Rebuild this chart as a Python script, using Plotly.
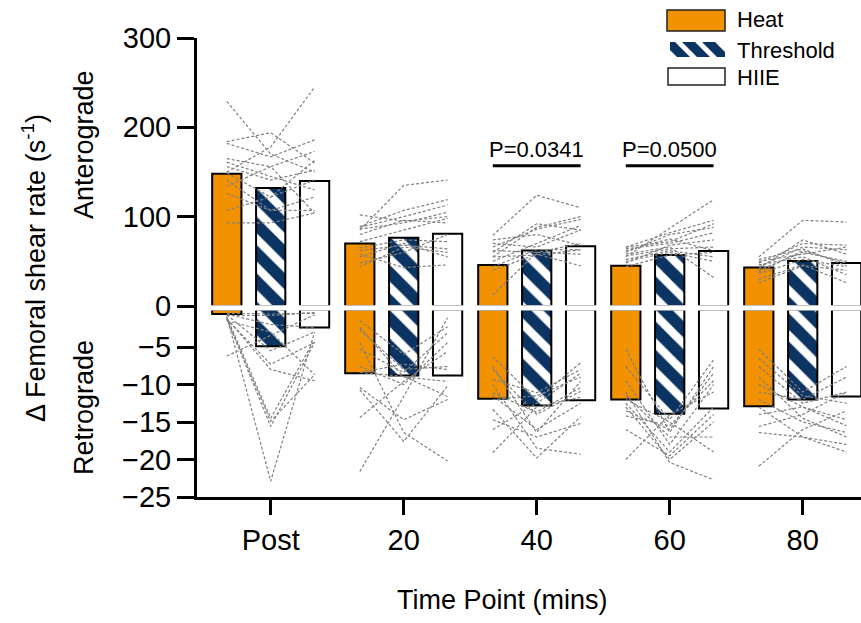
import plotly.graph_objects as go

# ---------------- data ----------------
TIME_LABELS = ["Post", "20", "40", "60", "80"]
SERIES = ["Heat", "Threshold", "HIIE"]

HEAT_ANTE = [148, 70, 46, 45, 43]
THR_ANTE = [132, 76.5, 62, 57, 50.4]
HIIE_ANTE = [140, 81, 67, 61.6, 48.2]
HEAT_RETRO = [-0.6, -8.5, -11.9, -12.0, -12.9]
THR_RETRO = [-4.9, -8.8, -12.8, -13.9, -12.0]
HIIE_RETRO = [-2.4, -8.8, -12.1, -13.2, -11.6]

Y_TOP_TICKS = [0, 100, 200, 300]
Y_BOT_TICKS = [-25, -20, -15, -10, -5]

# individual participant responses (Heat, Threshold, HIIE)
ANTE_POST = [(229, 170, 150), (150, 178, 245), (184, 194, 160), (182, 167, 186), (165, 156, 173),
             (161, 145, 130), (156, 141, 152), (149, 122, 141), (141, 107, 122), (134, 156, 104),
             (126, 107, 107), (107, 122, 163), (93, 93, 104)]
ANTE_20 = [(85, 135, 141), (102, 95, 100), (89, 107, 119), (88, 100, 113), (86, 93, 105),
           (80, 96, 93), (65, 74, 72), (62, 68, 64), (55, 70, 55), (44, 66, 60),
           (58, 43, 46), (72, 85, 98), (48, 60, 80)]
ANTE_40 = [(79, 124, 110), (66, 86, 97), (60, 92, 85), (55, 57, 63), (44, 63, 63),
           (12, 60, 70), (70, 66, 85), (50, 70, 90), (62, 60, 58), (40, 58, 45),
           (74, 80, 68), (55, 88, 100)]
ANTE_60 = [(55, 87, 119), (66, 82, 96), (60, 80, 88), (64, 70, 82), (44, 57, 60),
           (52, 62, 55), (58, 66, 32), (48, 68, 74), (62, 75, 62), (50, 60, 50),
           (66, 72, 92), (56, 64, 66)]
ANTE_80 = [(55, 96, 94), (48, 70, 68), (44, 66, 63), (40, 60, 50), (36, 52, 44),
           (30, 46, 26), (26, 45, 40), (50, 58, 66), (42, 74, 58), (46, 55, 35),
           (38, 62, 48), (52, 64, 45)]

RETRO_POST = [(-0.9, -22.9, -3.0), (-1.2, -15.6, -4.4), (-1.3, -14.9, -8.7), (-1.0, -14.5, -4.0),
              (-6.2, -3.5, -0.7), (-1.3, -7.3, -4.4), (-0.7, -5.5, -3.0), (-0.5, -0.6, -0.5),
              (-0.8, -0.8, -0.4), (-1.5, -3.0, -8.7), (-1.2, -8.0, -9.5), (-0.6, -2.0, -2.4)]
RETRO_20 = [(-4.4, -16.4, -20.2), (-21.6, -11.6, -1.1), (-10.4, -14.7, -12.0), (-2.7, -8.0, -7.6),
            (-8.4, -8.9, -11.6), (-14.4, -9.6, -5.6), (-5.3, -8.4, -3.1), (-8.4, -7.3, -8.0),
            (-2.4, -9.0, -9.6), (-7.6, -10.0, -4.4), (-10.7, -17.6, -10.2), (-1.5, -6.0, -2.3)]
RETRO_40 = [(-6.3, -12.0, -7.1), (-7.6, -16.4, -9.6), (-9.3, -11.1, -8.0), (-11.1, -13.7, -10.4),
            (-13.3, -19.8, -14.3), (-14.7, -17.0, -15.2), (-19.1, -13.0, -11.7), (-10.0, -18.5, -19.3),
            (-12.0, -11.5, -9.0), (-16.0, -12.5, -8.5), (-8.0, -14.0, -10.9), (-11.5, -16.0, -12.5)]
RETRO_60 = [(-5.3, -16.4, -7.6), (-7.6, -14.7, -6.7), (-11.0, -20.4, -22.7), (-12.5, -19.0, -13.0),
            (-14.2, -15.5, -9.5), (-20.0, -14.0, -11.0), (-13.0, -20.0, -15.0), (-11.5, -17.0, -17.0),
            (-12.0, -15.0, -19.0), (-9.5, -18.0, -10.0), (-16.0, -19.5, -14.0), (-13.5, -16.0, -8.5)]
RETRO_80 = [(-5.3, -11.0, -7.6), (-7.6, -12.5, -11.0), (-10.0, -13.0, -14.7), (-12.0, -15.0, -16.4),
            (-15.6, -14.0, -11.0), (-16.4, -17.0, -19.0), (-20.9, -16.0, -13.5), (-11.0, -12.0, -9.0),
            (-13.0, -17.0, -18.0), (-6.5, -11.5, -12.5), (-9.0, -14.5, -17.0), (-14.0, -13.0, -15.5)]

PVAL_POS = [2, 3]
PVAL_TEXT = ["P=0.0341", "P=0.0500"]

# ---------------- style / geometry ----------------
ORANGE = "#F29200"
NAVY = "#0B3463"
GREY = "#808080"
FONT = "Arial, Liberation Sans, Helvetica, sans-serif"

FW, FH = 861, 623
L, R, T, B = 197, 861, 38, 497
W, H = R - L, B - T
TOP_ZERO_PX = 306
BOT_ZERO_PX = 309.5
CAT_PX = 133.0
FIRST_CAT_PX = 270.7


def pxx(px):
    return (px - L) / W


def pxy(py):
    return (B - py) / H


X0 = -(FIRST_CAT_PX - L) / CAT_PX
X1 = X0 + W / CAT_PX
OFF = 0.33
BW = 0.22
xs = list(range(len(TIME_LABELS)))

fig = go.Figure()

markers = [
    dict(color=ORANGE, opacity=1, line=dict(color="black", width=2)),
    dict(color=NAVY, opacity=1, line=dict(color="black", width=2),
         pattern=dict(shape="\\", fgcolor="white", bgcolor=NAVY, fgopacity=1,
                      size=20, solidity=0.42)),
    dict(color="white", opacity=1, line=dict(color="black", width=2)),
]
antes = [HEAT_ANTE, THR_ANTE, HIIE_ANTE]
retros = [HEAT_RETRO, THR_RETRO, HIIE_RETRO]
offsets = [-OFF, 0, OFF]

for name, ante, retro, mk, off in zip(SERIES, antes, retros, markers, offsets):
    for vals, ya in ((ante, "y"), (retro, "y2")):
        fig.add_trace(go.Bar(x=xs, y=vals, width=BW, offset=off - BW / 2, name=name,
                             marker=mk, xaxis="x", yaxis=ya, showlegend=False))


def ind_trace(groups, ya):
    xx, yy = [], []
    for t, grp in enumerate(groups):
        for trip in grp:
            xx += [t - OFF, t, t + OFF, None]
            yy += list(trip) + [None]
    return go.Scatter(x=xx, y=yy, mode="lines", xaxis="x", yaxis=ya, showlegend=False,
                      line=dict(color=GREY, width=1.2, dash="3px,2px"), hoverinfo="skip")


fig.add_trace(ind_trace([ANTE_POST, ANTE_20, ANTE_40, ANTE_60, ANTE_80], "y"))
fig.add_trace(ind_trace([RETRO_POST, RETRO_20, RETRO_40, RETRO_60, RETRO_80], "y2"))

axis_common = dict(showline=True, linewidth=3, linecolor="black", ticks="outside",
                   tickwidth=3, tickcolor="black", showgrid=False, zeroline=False,
                   tickfont=dict(size=29, color="black", family=FONT))

fig.update_layout(
    width=FW, height=FH,
    margin=dict(l=L, r=FW - R, t=T, b=FH - B, pad=0),
    plot_bgcolor="white", paper_bgcolor="white",
    barmode="overlay", showlegend=False,
    font=dict(family=FONT, color="black"),
    xaxis=dict(domain=[0, 1], range=[X0, X1], anchor="y2", tickvals=xs, ticktext=TIME_LABELS,
               ticklen=15, **axis_common),
    yaxis=dict(domain=[pxy(TOP_ZERO_PX), 1], range=[0, 300], tickvals=Y_TOP_TICKS,
               anchor="x", ticklen=17, **axis_common),
    yaxis2=dict(domain=[0, pxy(BOT_ZERO_PX)], range=[-25, 0], tickvals=Y_BOT_TICKS,
                anchor="x", ticklen=17, **axis_common),
)

shapes = []
# white break across the split axis
shapes.append(dict(type="rect", xref="paper", yref="paper", x0=pxx(199), x1=1.0,
                   y0=pxy(310.6), y1=pxy(305.2), fillcolor="white", line=dict(width=0), layer="above"))
# bridge the axis line across the break
shapes.append(dict(type="line", xref="paper", yref="paper", x0=pxx(195.5), x1=pxx(195.5),
                   y0=pxy(312), y1=pxy(303), line=dict(color="black", width=3)))

# p-value brackets
annotations = []
for pos, txt in zip(PVAL_POS, PVAL_TEXT):
    shapes.append(dict(type="line", xref="x", yref="y", x0=pos - OFF, x1=pos + OFF, y0=157, y1=157,
                       line=dict(color="black", width=3)))
    annotations.append(dict(x=pos, y=175, xref="x", yref="y", text=txt, showarrow=False,
                            xanchor="center", yanchor="middle",
                            font=dict(size=22, family=FONT, color="black")))

# legend (drawn manually to match the wide swatches)
shapes.append(dict(type="rect", xref="paper", yref="paper", x0=pxx(667), x1=pxx(725),
                   y0=pxy(31), y1=pxy(10), fillcolor=ORANGE, line=dict(color="#222", width=1.5)))
shapes.append(dict(type="rect", xref="paper", yref="paper", x0=pxx(668), x1=pxx(725),
                   y0=pxy(85), y1=pxy(68), fillcolor="white", line=dict(color="#222", width=1.5)))


def clip_poly(poly, x0, x1, y0, y1):
    def clip(pts, inside, inter):
        out = []
        n = len(pts)
        for i in range(n):
            cur, prev = pts[i], pts[i - 1]
            if inside(cur):
                if not inside(prev):
                    out.append(inter(prev, cur))
                out.append(cur)
            elif inside(prev):
                out.append(inter(prev, cur))
        return out

    def ix(xc):
        return lambda p, q: (xc, p[1] + (q[1] - p[1]) * (xc - p[0]) / (q[0] - p[0]))

    def iy(yc):
        return lambda p, q: (p[0] + (q[0] - p[0]) * (yc - p[1]) / (q[1] - p[1]), yc)

    pts = poly
    pts = clip(pts, lambda p: p[0] >= x0, ix(x0))
    if pts:
        pts = clip(pts, lambda p: p[0] <= x1, ix(x1))
    if pts:
        pts = clip(pts, lambda p: p[1] >= y0, iy(y0))
    if pts:
        pts = clip(pts, lambda p: p[1] <= y1, iy(y1))
    return pts


sx0, sx1, sy0, sy1 = 670, 725, 42, 57
for a in (662, 682, 702):
    h = sy1 - sy0
    poly = [(a, sy0), (a + 13, sy0), (a + 13 + h, sy1), (a + h, sy1)]
    pts = clip_poly(poly, sx0, sx1, sy0, sy1)
    if pts:
        path = "M " + " L ".join(f"{pxx(px):.5f},{pxy(py):.5f}" for px, py in pts) + " Z"
        shapes.append(dict(type="path", xref="paper", yref="paper", path=path,
                           fillcolor=NAVY, line=dict(width=0)))

for txt, cy in zip(SERIES, (20, 50, 77)):
    annotations.append(dict(x=pxx(735), y=pxy(cy), xref="paper", yref="paper", text=txt,
                            showarrow=False, xanchor="left", yanchor="middle",
                            font=dict(size=22, family=FONT, color="black")))

# axis titles
title_font = dict(size=27, family=FONT, color="black")
annotations.append(dict(x=pxx(34), y=pxy(268), xref="paper", yref="paper",
                        text="Δ Femoral shear rate (s<sup>-1</sup>)", textangle=-90, showarrow=False,
                        xanchor="center", yanchor="middle", font=title_font))
annotations.append(dict(x=pxx(84), y=pxy(145), xref="paper", yref="paper", text="Anterograde",
                        textangle=-90, showarrow=False, xanchor="center", yanchor="middle",
                        font=title_font))
annotations.append(dict(x=pxx(84), y=pxy(408), xref="paper", yref="paper", text="Retrograde",
                        textangle=-90, showarrow=False, xanchor="center", yanchor="middle",
                        font=title_font))
annotations.append(dict(x=pxx(502), y=pxy(600), xref="paper", yref="paper", text="Time Point (mins)",
                        showarrow=False, xanchor="center", yanchor="middle",
                        font=dict(size=27, family=FONT, color="black")))

fig.update_layout(shapes=shapes, annotations=annotations)
fig.write_html("out.html")
